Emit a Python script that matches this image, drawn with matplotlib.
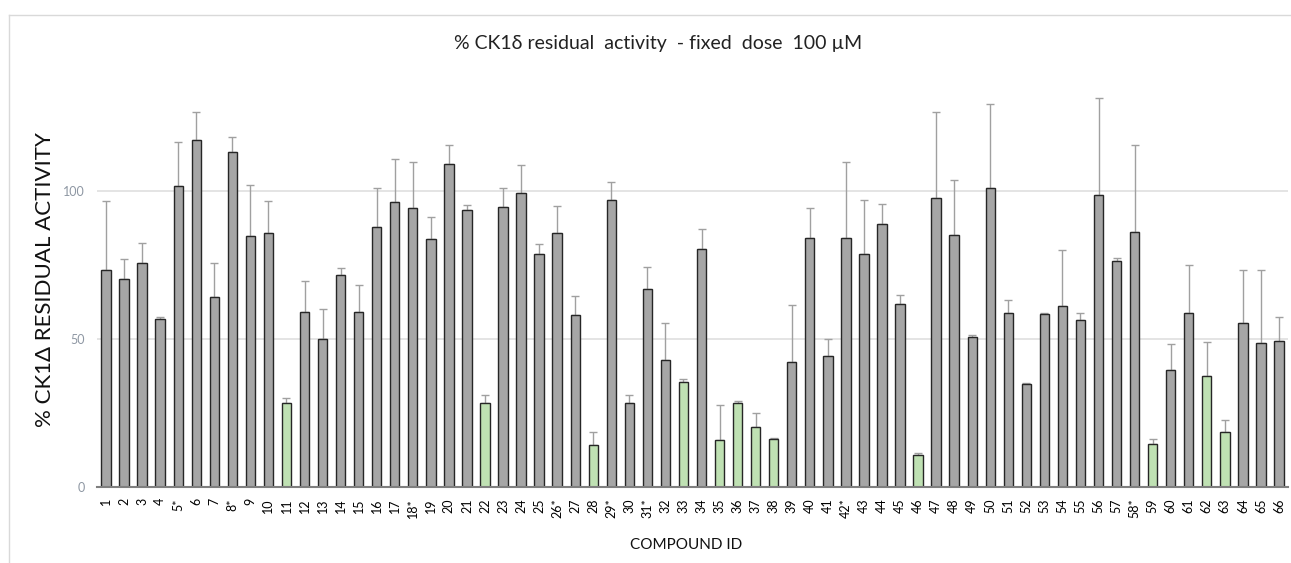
import numpy as np
import matplotlib
matplotlib.use("Agg")
import matplotlib.pyplot as plt
from matplotlib.lines import Line2D

plt.rcParams['font.family'] = ['Lato', 'DejaVu Sans']

labels = ["1", "2", "3", "4", "5*", "6", "7", "8*", "9", "10",
          "11", "12", "13", "14", "15", "16", "17", "18*", "19", "20",
          "21", "22", "23", "24", "25", "26*", "27", "28", "29*", "30",
          "31*", "32", "33", "34", "35", "36", "37", "38", "39", "40",
          "41", "42*", "43", "44", "45", "46", "47", "48", "49", "50",
          "51", "52", "53", "54", "55", "56", "57", "58*", "59", "60",
          "61", "62", "63", "64", "65", "66"]

activity = [73.1, 70.2, 75.7, 56.8, 101.6, 117.1, 64.2, 113.1, 84.6, 85.6,
            28.3, 59.0, 50.1, 71.6, 59.0, 87.6, 96.1, 94.3, 83.8, 109.0,
            93.5, 28.3, 94.6, 99.3, 78.6, 85.6, 58.2, 14.1, 96.8, 28.3,
            66.8, 42.7, 35.6, 80.4, 15.7, 28.3, 20.4, 16.1, 42.3, 84.1,
            44.1, 84.1, 78.6, 88.6, 61.9, 10.7, 97.5, 84.9, 50.5, 100.8,
            58.6, 34.7, 58.3, 61.1, 56.4, 98.5, 76.4, 85.9, 14.5, 39.6,
            58.6, 37.5, 18.7, 55.2, 48.5, 49.3]

error_up = [23.3, 6.9, 6.6, 0.7, 14.8, 9.4, 11.5, 5.1, 17.3, 10.8,
            1.9, 10.4, 10.0, 2.2, 9.2, 13.2, 14.7, 15.4, 7.4, 6.3,
            1.7, 2.9, 6.3, 9.3, 3.3, 9.3, 6.3, 4.5, 6.2, 2.6,
            7.6, 12.5, 0.7, 6.8, 11.9, 0.6, 4.5, 0.3, 19.2, 10.0,
            6.0, 25.6, 18.1, 7.0, 3.0, 0.9, 28.9, 18.6, 0.9, 28.6,
            4.5, 0.3, 0.3, 19.0, 2.2, 32.7, 1.0, 29.4, 1.8, 8.6,
            16.3, 11.4, 3.9, 17.9, 24.9, 8.2]

highlighted = ["11", "22", "28", "33", "35", "36", "37", "38", "46", "59", "62", "63"]

yticks = [0, 50, 100]

W, H = 1291, 563
fig = plt.figure(figsize=(W / 100, H / 100), dpi=100)

ax_left, ax_right = 97, 1288
ax_bottom, ax_top = 487, 87
ymax = 135
ax = fig.add_axes([ax_left / W, (H - ax_bottom) / H,
                   (ax_right - ax_left) / W, (ax_bottom - ax_top) / H])

x = np.arange(len(labels))
colors = ['#BFE1B3' if l in highlighted else '#A6A6A6' for l in labels]

ax.errorbar(x, activity, yerr=[np.zeros(len(x)), error_up], fmt='none',
            ecolor='#A0A0A0', elinewidth=1.0, capsize=2.9, capthick=1.0, zorder=2)
ax.bar(x, activity, width=0.52, color=colors, edgecolor='#262626',
       linewidth=1.0, zorder=3)

ax.set_xlim(-0.5, len(labels) - 0.5)
ax.set_ylim(0, ymax)
ax.set_yticks(yticks)
ax.set_yticklabels([str(t) for t in yticks], color='#8E97A3', fontsize=9)
ax.set_xticks(x)
ax.set_xticklabels(labels, rotation=90, fontsize=9, color='#000000')
ax.tick_params(axis='x', length=0, pad=8)
ax.tick_params(axis='y', length=0, pad=9)
ax.yaxis.grid(True, color='#E2E2E2', linewidth=1.3, zorder=0)
ax.set_axisbelow(True)
for s in ['top', 'right', 'left']:
    ax.spines[s].set_visible(False)
ax.spines['bottom'].set_color('#7F7F7F')
ax.spines['bottom'].set_linewidth(1.5)
ax.spines['bottom'].set_zorder(4)

# titles and axis labels
fig.text(658 / W, 1 - 43 / H, "% CK1δ residual  activity  - fixed  dose  100 µM",
         ha='center', va='center', fontsize=14, color='#222222')
fig.text(45 / W, 1 - 280 / H, "% CK1Δ RESIDUAL ACTIVITY", rotation=90,
         ha='center', va='center', fontsize=16, color='#111111')
fig.text(686 / W, 1 - 545 / H, "COMPOUND ID", ha='center', va='center',
         fontsize=11, color='#111111')

# outer chart border (top and left visible)
fig.add_artist(Line2D([9 / W, 1.0], [1 - 15 / H, 1 - 15 / H],
                      transform=fig.transFigure, color='#D9D9D9', linewidth=1.0))
fig.add_artist(Line2D([9 / W, 9 / W], [0.0, 1 - 15 / H],
                      transform=fig.transFigure, color='#D9D9D9', linewidth=1.0))

fig.savefig("out.png", dpi=100)
